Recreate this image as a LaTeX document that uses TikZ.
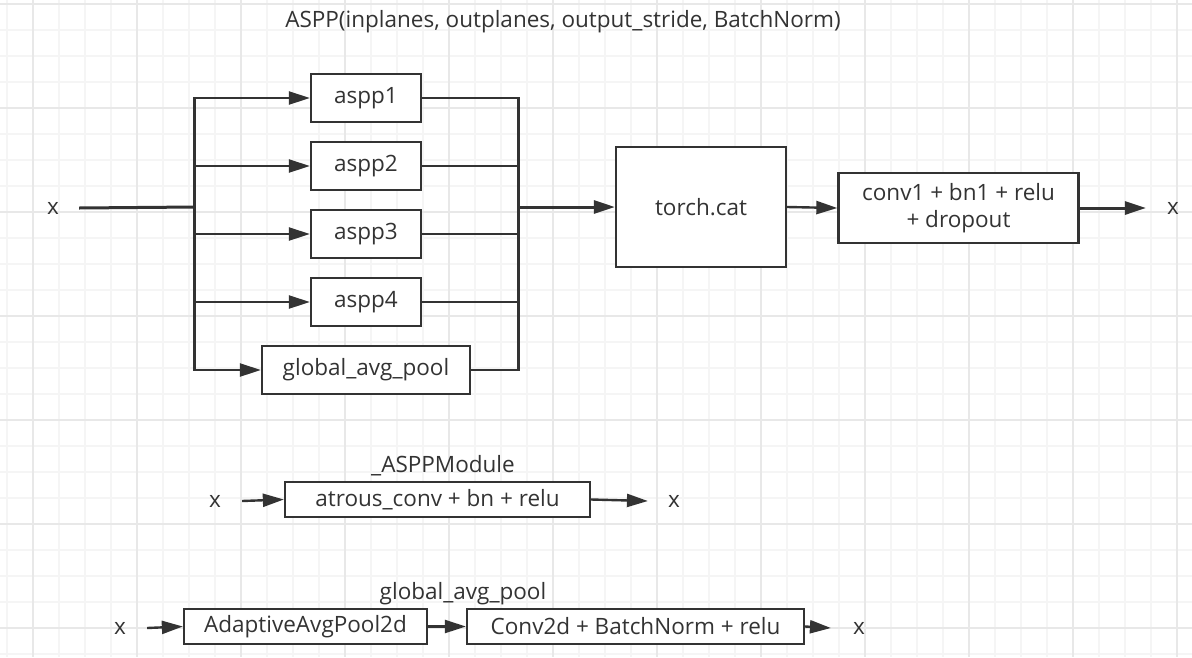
\documentclass[tikz,border=0pt]{standalone}
\usepackage{fontspec}
\setmainfont{Open Sans}
\usetikzlibrary{arrows.meta}
\definecolor{ink}{HTML}{333333}
\definecolor{gridminor}{HTML}{F5F5F5}
\definecolor{gridmajor}{HTML}{E8E8E8}
\begin{document}
\begin{tikzpicture}[x=1pt,y=-1pt,
  txt/.style={font=\fontsize{22.5}{27}\selectfont,text=ink},
  box/.style={txt,draw=ink,line width=2.3pt,fill=white,minimum height=48pt,inner sep=0pt,align=center},
  lbl/.style={txt,inner sep=0pt},
  conn/.style={draw=ink,line width=2.4pt},
  heavy/.style={draw=ink,line width=3pt},
  arr/.style={-{Triangle[length=21pt,width=13pt]}}
]
\useasboundingbox (0,0) rectangle (1192,657);
\fill[white] (0,0) rectangle (1192,657);
% grid
\foreach \gx in {7,33,...,1192} \draw[gridminor,line width=1.2pt] (\gx,0) -- (\gx,657);
\foreach \gy in {4,30,...,657} \draw[gridminor,line width=1.2pt] (0,\gy) -- (1192,\gy);
\foreach \gx in {33,137,...,1192} \draw[gridmajor,line width=1.5pt] (\gx,0) -- (\gx,657);
\foreach \gy in {4,108,...,657} \draw[gridmajor,line width=1.5pt] (0,\gy) -- (1192,\gy);

% ASPP main
\node[lbl] (title) at (563,22) {ASPP(inplanes, outplanes, output\_stride, BatchNorm)};
\node[lbl] (xin) at (53,208) {x};
\node[box,minimum width=110pt] (a1) at (366,98) {aspp1};
\node[box,minimum width=110pt] (a2) at (366,166) {aspp2};
\node[box,minimum width=110pt] (a3) at (366,234) {aspp3};
\node[box,minimum width=110pt] (a4) at (366,302) {aspp4};
\node[box,minimum width=208pt] (gap) at (366,370) {global\_avg\_pool};
\node[box,minimum width=170pt,minimum height=120pt] (cat) at (701,207) {torch.cat};
\node[box,minimum width=240pt,minimum height=70pt] (conv) at (958.5,208) {conv1 + bn1 + relu\\+ dropout};
\node[lbl] (xout) at (1173,208) {x};

\coordinate (sL) at (194.6,207);
\coordinate (sR) at (518.6,207);
\draw[heavy] ([xshift=20pt]xin.east) -- (sL);
\foreach \b in {a1,a2,a3,a4,gap} {
  \draw[conn,arr] (sL) |- (\b.west);
  \draw[conn] (\b.east) -| (sR);
}
\draw[heavy,arr] (sR) -- (cat.west);
\draw[conn,arr] (cat.east) -- (conv.west);
\draw[heavy,arr] (conv.east) -- ([xshift=-21pt]xout.west);

% _ASPPModule
\node[lbl] (modlbl) at (443,466) {\_ASPPModule};
\node[box,minimum width=305pt,minimum height=35pt] (atr) at (437.5,499.5) {atrous\_conv + bn + relu};
\node[lbl] (x2in) at (215,501) {x};
\node[lbl] (x2out) at (674,501) {x};
\draw[conn,arr] ([xshift=21pt]x2in.east) -- (atr.west);
\draw[conn,arr] (atr.east) -- ([xshift=-20pt]x2out.west);

% global_avg_pool
\node[lbl] (gaplbl) at (463,594) {global\_avg\_pool};
\node[box,minimum width=243pt,minimum height=35pt] (pool) at (305.5,626.5) {AdaptiveAvgPool2d};
\node[box,minimum width=337pt,minimum height=35pt] (c2d) at (635.5,626.5) {Conv2d + BatchNorm + relu};
\node[lbl] (x3in) at (120,628) {x};
\node[lbl] (x3out) at (859,628) {x};
\draw[conn,arr] ([xshift=21pt]x3in.east) -- (pool.west);
\draw[conn,arr] (pool.east) -- (c2d.west);
\draw[conn,arr] (c2d.east) -- ([xshift=-22pt]x3out.west);
\end{tikzpicture}
\end{document}
